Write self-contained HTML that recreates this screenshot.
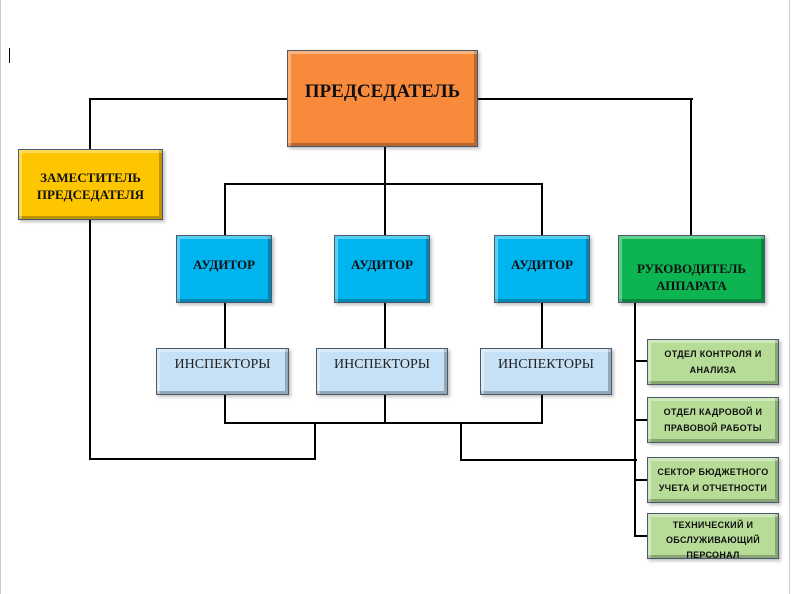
<!DOCTYPE html>
<html><head><meta charset="utf-8"><style>
body{margin:0;width:793px;height:594px;background:#fff;position:relative;overflow:hidden;font-family:"Liberation Serif",serif}
.b{position:absolute;box-sizing:border-box;display:flex;align-items:center;justify-content:center;text-align:center;font-weight:bold;color:#111;border:1px solid #4a5a6a;box-shadow:inset 3px 3px 0 rgba(255,255,255,.35),inset -3px -3px 0 rgba(0,0,0,.25),2px 2px 3px rgba(0,0,0,.25)}
.l{position:absolute;background:#000}
.h{height:2px}.v{width:2px}
.g{background:#b7dc97;font-size:9px;line-height:16px;letter-spacing:.3px;font-family:"Liberation Sans Narrow","Liberation Sans",sans-serif}
.a{background:#00b4f0;font-size:13px;align-items:flex-start;padding-top:21px}
.i{background:#c6e0f6;font-weight:normal;font-size:14px;color:#222;align-items:flex-start;padding-top:8px}
</style></head><body>
<div style="position:absolute;left:0;top:0;width:1px;height:594px;background:#ccc"></div>
<div style="position:absolute;left:789px;top:0;width:1px;height:594px;background:#ccc"></div>
<div style="position:absolute;left:9px;top:48px;width:1px;height:15px;background:#000"></div>

<div class="l h" style="left:90px;top:98px;width:198px"></div>
<div class="l h" style="left:477px;top:98px;width:216px"></div>
<div class="l v" style="left:89px;top:98px;height:52px"></div>
<div class="l v" style="left:690px;top:98px;height:138px"></div>
<div class="l v" style="left:384px;top:146px;height:90px"></div>
<div class="l h" style="left:224px;top:183px;width:319px"></div>
<div class="l v" style="left:224px;top:183px;height:53px"></div>
<div class="l v" style="left:541px;top:183px;height:53px"></div>
<div class="l v" style="left:224px;top:302px;height:47px"></div>
<div class="l v" style="left:384px;top:302px;height:47px"></div>
<div class="l v" style="left:541px;top:302px;height:47px"></div>
<div class="l v" style="left:224px;top:394px;height:30px"></div>
<div class="l v" style="left:384px;top:394px;height:30px"></div>
<div class="l v" style="left:541px;top:394px;height:30px"></div>
<div class="l h" style="left:224px;top:422px;width:319px"></div>
<div class="l v" style="left:314px;top:422px;height:38px"></div>
<div class="l h" style="left:89px;top:458px;width:227px"></div>
<div class="l v" style="left:89px;top:219px;height:241px"></div>
<div class="l v" style="left:460px;top:422px;height:39px"></div>
<div class="l h" style="left:460px;top:459px;width:177px"></div>
<div class="l v" style="left:634px;top:302px;height:235px"></div>
<div class="l h" style="left:634px;top:360px;width:14px"></div>
<div class="l h" style="left:634px;top:419px;width:14px"></div>
<div class="l h" style="left:634px;top:479px;width:14px"></div>
<div class="l h" style="left:634px;top:535px;width:14px"></div>

<div class="b" style="left:287px;top:50px;width:191px;height:97px;background:#f98a3c;font-size:19px;align-items:flex-start;padding-top:30px">ПРЕДСЕДАТЕЛЬ</div>
<div class="b" style="left:18px;top:149px;width:145px;height:71px;background:#fdc600;font-size:13px;line-height:17px;padding-top:2px">ЗАМЕСТИТЕЛЬ<br>ПРЕДСЕДАТЕЛЯ</div>
<div class="b a" style="left:176px;top:235px;width:96px;height:68px">АУДИТОР</div>
<div class="b a" style="left:334px;top:235px;width:96px;height:68px">АУДИТОР</div>
<div class="b a" style="left:494px;top:235px;width:96px;height:68px">АУДИТОР</div>
<div class="b" style="left:618px;top:235px;width:147px;height:68px;background:#0cb552;font-size:13px;line-height:17px;align-items:flex-start;padding-top:24px">РУКОВОДИТЕЛЬ<br>АППАРАТА</div>
<div class="b i" style="left:156px;top:348px;width:133px;height:47px">ИНСПЕКТОРЫ</div>
<div class="b i" style="left:316px;top:348px;width:132px;height:47px">ИНСПЕКТОРЫ</div>
<div class="b i" style="left:480px;top:348px;width:132px;height:47px">ИНСПЕКТОРЫ</div>
<div class="b g" style="left:647px;top:339px;width:132px;height:46px">ОТДЕЛ КОНТРОЛЯ И<br>АНАЛИЗА</div>
<div class="b g" style="left:647px;top:397px;width:132px;height:46px">ОТДЕЛ КАДРОВОЙ И<br>ПРАВОВОЙ РАБОТЫ</div>
<div class="b g" style="left:647px;top:457px;width:132px;height:46px">СЕКТОР БЮДЖЕТНОГО<br>УЧЕТА И ОТЧЕТНОСТИ</div>
<div class="b g" style="left:647px;top:513px;width:132px;height:46px;align-items:flex-start;padding-top:4px;overflow:hidden;line-height:15px">ТЕХНИЧЕСКИЙ И<br>ОБСЛУЖИВАЮЩИЙ<br>ПЕРСОНАЛ</div>
</body></html>
